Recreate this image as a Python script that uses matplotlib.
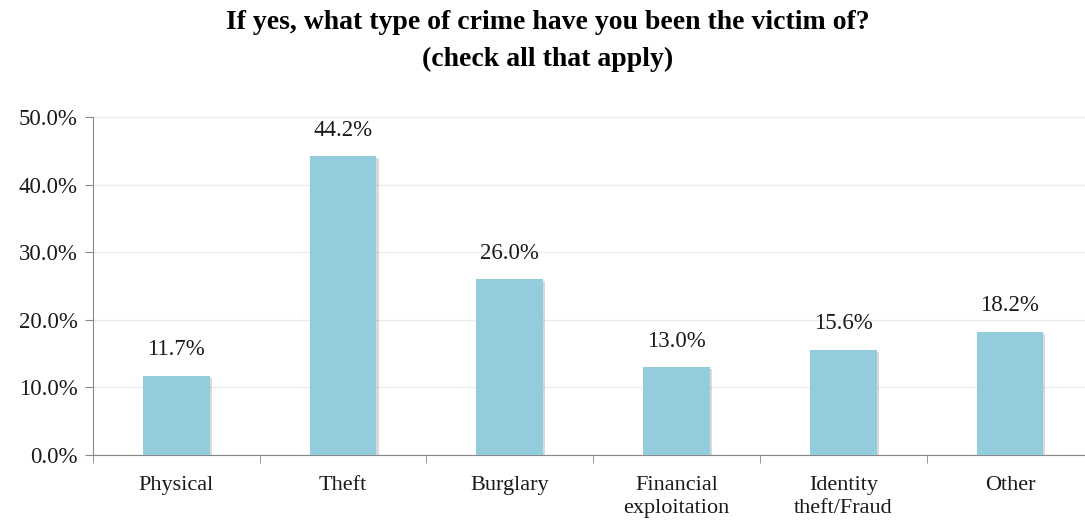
import matplotlib
matplotlib.use("Agg")
import matplotlib.pyplot as plt
import matplotlib.patheffects as pe
from matplotlib.ticker import FuncFormatter, FixedLocator

categories = ["Physical", "Theft", "Burglary", "Financial\nexploitation", "Identity\ntheft/Fraud", "Other"]
values = [11.7, 44.2, 26.0, 13.0, 15.6, 18.2]
title = "If yes, what type of crime have you been the victim of?\n(check all that apply)"

plt.rcParams['font.family'] = ['Liberation Serif', 'DejaVu Serif']

fig = plt.figure(figsize=(10.85, 5.23), dpi=100)
ax = fig.add_axes([93/1085, 68/523, 1 - 93/1085, (455-117)/523])

x = list(range(len(categories)))
bars = ax.bar(x, values, width=0.4, color="#93CDDD", zorder=3)
for b in bars:
    b.set_path_effects([pe.SimplePatchShadow(offset=(1.5, -1.5), shadow_rgbFace="#000000", alpha=0.15), pe.Normal()])
for xi, v in zip(x, values):
    ax.text(xi, v + 2.3, f"{v:.1f}%", ha="center", va="bottom", fontsize=16.5, color="#1a1a1a")

ax.set_ylim(0, 50)
ax.set_xlim(-0.5, 5.45)
ax.set_yticks([0, 10, 20, 30, 40, 50])
ax.yaxis.set_major_formatter(FuncFormatter(lambda v, p: f"{v:.1f}%"))
ax.grid(axis="y", color="#EBEBEB", linewidth=1, zorder=0)
ax.set_xticks(x)
ax.set_xticklabels(categories, fontsize=16, linespacing=1.3, color="#1a1a1a")
ax.xaxis.set_minor_locator(FixedLocator([i + 0.5 for i in range(-1, 6)]))
ax.tick_params(axis="x", which="major", length=0, pad=15)
ax.tick_params(axis="x", which="minor", length=6, color="#888888")
ax.tick_params(axis="y", length=6, color="#888888", labelsize=16.5, labelcolor="#1a1a1a", pad=5)
for s in ["top", "right"]:
    ax.spines[s].set_visible(False)
for s in ["left", "bottom"]:
    ax.spines[s].set_color("#888888")

fig.text(548/1085, 1 - 41/523, title, ha="center", va="center", fontsize=20, fontweight="bold", linespacing=1.63)

fig.savefig("out.png", dpi=100)
